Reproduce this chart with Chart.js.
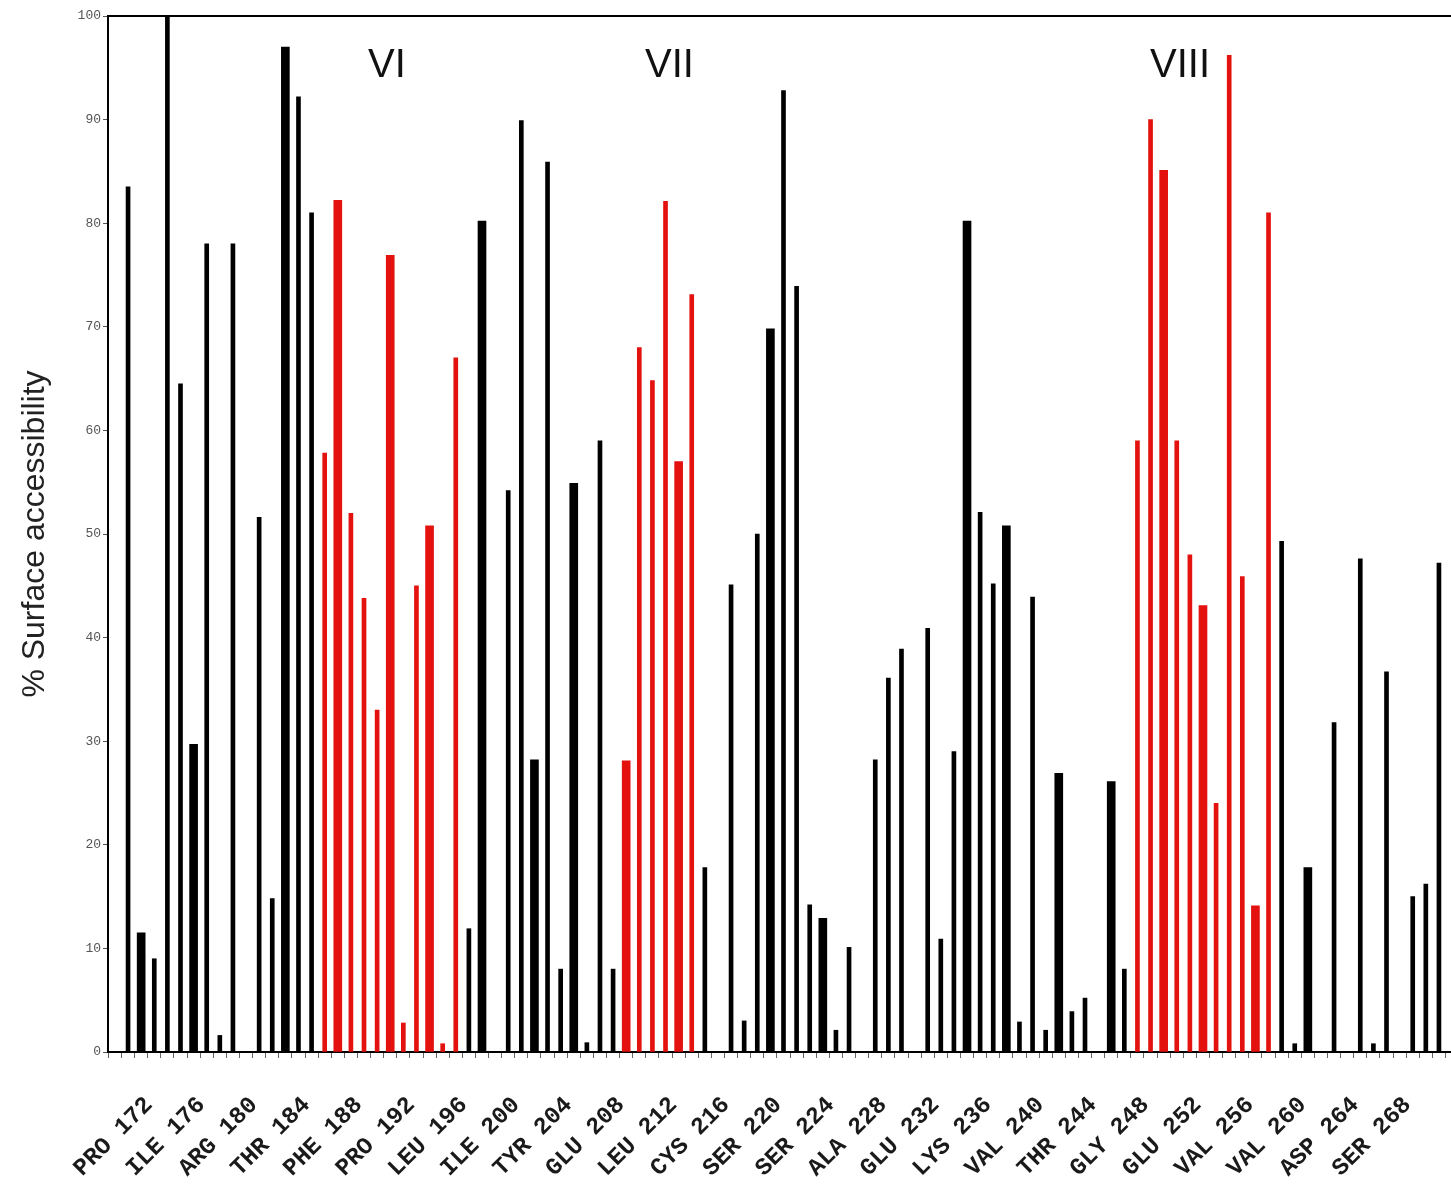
<!DOCTYPE html>
<html>
<head>
<meta charset="utf-8">
<script src="https://cdn.jsdelivr.net/npm/chart.js@4.4.1/dist/chart.umd.min.js"></script>
<style>
html, body { margin: 0; padding: 0; background: #fff; overflow: hidden; }
#c { display: block; }
</style>
</head>
<body>
<canvas id="c" width="1451" height="1194"></canvas>
<script>
// ---------------- DATA ----------------
const residues = [];
for (let r = 170; r <= 270; r++) residues.push(r);

// % surface accessibility per residue (170 ... 270); null = no bar
const accessibility = [
  83.5, 11.5, 9.0, 100, 64.5, 29.7, 78, 1.6, 78, null,      // 170-179
  51.6, 14.8, 97, 92.2, 81, 57.8, 82.2, 52, 43.8, 33,        // 180-189
  76.9, 2.8, 45, 50.8, 0.8, 67, 11.9, 80.2, null, 54.2,      // 190-199
  89.9, 28.2, 85.9, 8.0, 54.9, 0.9, 59, 8.0, 28.1, 68,       // 200-209
  64.8, 82.1, 57, 73.1, 17.8, null, 45.1, 3.0, 50, 69.8,     // 210-219
  92.8, 73.9, 14.2, 12.9, 2.1, 10.1, null, 28.2, 36.1, 38.9, // 220-229
  null, 40.9, 10.9, 29, 80.2, 52.1, 45.2, 50.8, 2.9, 43.9,   // 230-239
  2.1, 26.9, 3.9, 5.2, null, 26.1, 8.0, 59, 90, 85.1,        // 240-249
  59, 48, 43.1, 24, 96.2, 45.9, 14.1, 81, 49.3, 0.8,         // 250-259
  17.8, null, 31.8, null, 47.6, 0.8, 36.7, null, 15, 16.2,   // 260-269
  47.2                                                       // 270
];

// transmembrane segments (highlighted residues)
const segmentNames = ['VI', 'VII', 'VIII'];
const segmentStart = [185, 208, 247];
const segmentEnd = [195, 213, 257];

// x tick labels
const labelResidues = [172, 176, 180, 184, 188, 192, 196, 200, 204, 208, 212, 216, 220,
                       224, 228, 232, 236, 240, 244, 248, 252, 256, 260, 264, 268];
const labelNames = ['PRO', 'ILE', 'ARG', 'THR', 'PHE', 'PRO', 'LEU', 'ILE', 'TYR', 'GLU', 'LEU', 'CYS', 'SER',
                    'SER', 'ALA', 'GLU', 'LYS', 'VAL', 'THR', 'GLY', 'GLU', 'VAL', 'VAL', 'ASP', 'SER'];

const yTicks = [0, 10, 20, 30, 40, 50, 60, 70, 80, 90, 100];

// ---------------- STYLE ----------------
const thickResidues = [171, 175, 182, 186, 190, 193, 197, 201, 204, 208, 212, 219, 223,
                       234, 237, 241, 245, 249, 252, 256, 260];
const segLabelAnchor = [189.75, 211.3, 250.25];  // residue coordinate of each segment label
const segLabelValue = 95.2;
const BLACK = '#000000';
const RED = '#e3120e';

const labelMap = {};
labelResidues.forEach((r, i) => { labelMap[r] = labelNames[i] + ' ' + r; });

function inSegment(r) {
  for (let i = 0; i < segmentStart.length; i++) if (r >= segmentStart[i] && r <= segmentEnd[i]) return true;
  return false;
}
function pts(red, thick) {
  const out = [];
  residues.forEach((r, i) => {
    const v = accessibility[i];
    if (v === null) return;
    if (inSegment(r) !== red) return;
    if (thickResidues.includes(r) !== thick) return;
    out.push({ x: r, y: v });
  });
  return out;
}

const topBorder = {
  id: 'topBorder',
  afterDraw(chart) {
    const { ctx, chartArea } = chart;
    ctx.save();
    ctx.strokeStyle = '#000';
    ctx.lineWidth = 2;
    ctx.beginPath();
    ctx.moveTo(chartArea.left - 1, chartArea.top);
    ctx.lineTo(chart.width, chartArea.top);
    ctx.stroke();
    ctx.restore();
  }
};
const segLabels = {
  id: 'segLabels',
  afterDatasetsDraw(chart) {
    const { ctx, scales } = chart;
    ctx.save();
    ctx.fillStyle = '#111';
    ctx.font = '40px "Liberation Sans", Arial, sans-serif';
    ctx.textAlign = 'center';
    ctx.textBaseline = 'middle';
    segmentNames.forEach((n, i) => {
      ctx.fillText(n, scales.x.getPixelForValue(segLabelAnchor[i]), scales.y.getPixelForValue(segLabelValue));
    });
    ctx.restore();
  }
};

new Chart(document.getElementById('c'), {
  type: 'bar',
  data: {
    datasets: [
      { data: pts(false, false), backgroundColor: BLACK, barThickness: 4, grouped: false },
      { data: pts(false, true), backgroundColor: BLACK, barThickness: 8, grouped: false },
      { data: pts(true, false), backgroundColor: RED, barThickness: 4, grouped: false },
      { data: pts(true, true), backgroundColor: RED, barThickness: 8, grouped: false }
    ]
  },
  options: {
    responsive: false,
    animation: false,
    layout: { padding: { top: 16, right: 0, bottom: 0, left: 0 } },
    plugins: { legend: { display: false }, tooltip: { enabled: false } },
    scales: {
      x: {
        type: 'linear',
        min: 168.47,
        max: 270.92,
        offset: false,
        grid: { display: true, drawOnChartArea: false, drawTicks: true, tickLength: 6, color: '#666', lineWidth: 1 },
        border: { display: true, color: '#000', width: 2 },
        ticks: {
          stepSize: 1,
          autoSkip: false,
          includeBounds: false,
          minRotation: 45,
          maxRotation: 45,
          padding: 33,
          labelOffset: -5,
          color: '#1a1a1a',
          font: { family: '"Liberation Mono", "Courier New", monospace', size: 24, weight: 'bold' },
          callback: (v) => labelMap[v] || ''
        },
        afterFit: (s) => { s.height = 142; s.paddingLeft = 0; s.paddingRight = 0; }
      },
      y: {
        min: 0,
        max: 100,
        afterBuildTicks: (s) => { s.ticks = yTicks.map(v => ({ value: v })); },
        grid: { display: true, drawOnChartArea: false, drawTicks: true, tickLength: 5, color: '#555' },
        border: { display: true, color: '#000', width: 2 },
        ticks: {
          padding: 2,
          color: '#555',
          font: { family: '"Liberation Mono", monospace', size: 13 }
        },
        title: {
          display: true,
          text: '% Surface accessibility',
          color: '#222',
          font: { family: '"Liberation Sans", Arial, sans-serif', size: 32 },
          padding: { top: 16, bottom: 0 }
        },
        afterFit: (s) => { s.width = 108; s.paddingTop = 0; s.paddingBottom = 0; }
      }
    }
  },
  plugins: [topBorder, segLabels]
});
</script>
</body>
</html>
